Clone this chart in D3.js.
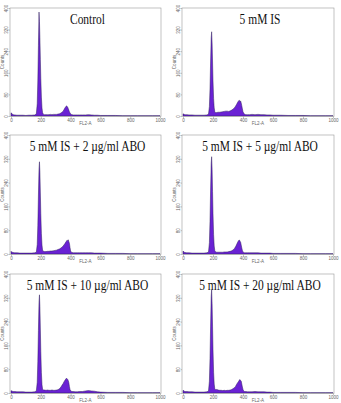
<!DOCTYPE html>
<html>
<head>
<meta charset="utf-8">
<script src="https://cdn.jsdelivr.net/npm/d3@7"></script>
<style>
  body { margin: 0; background: #fff; }
  .axis text { font-family: Arial, "Liberation Sans", sans-serif; font-size: 4.5px; fill: #666; }
  .axis line { stroke: #888; stroke-width: 0.5; }
</style>
</head>
<body>
<div class="chart"></div>
<script>
// channel positions (FL2-A) shared by all panels
const channels = [0,4,8,15,25, 40,60,80,100,120, 140,160,170,176,180, 184,188,191,194,197,
  200,204,208,212,218, 225,235,245,255,265, 275,285,295,305,315, 325,335,342,350,356,
  362,368,372,376,380, 384,388,392,396,400, 405,410,418,430,445, 460,480,500,520,540,
  560,580,600,650,700, 750,800,850,900,950, 1000];

const titles = ["Control", "5 mM IS", "5 mM IS + 2 \u00b5g/ml ABO", "5 mM IS + 5 \u00b5g/ml ABO",
  "5 mM IS + 10 \u00b5g/ml ABO", "5 mM IS + 20 \u00b5g/ml ABO"];

const control = [12,10,7,5,4, 3,3,3,2,3, 3,4,8,45,130, 260,385,350,290,210,
  140,70,30,12,6, 5,5,5,5,6, 5,6,6,6,7, 8,11,14,18,24,
  30,35,37,36,33, 28,22,16,11,8, 6,5,4,4,4, 4,4,4,5,4,
  3,3,2,2,2, 1,1,1,1,1, 1];
const is5 = [8,7,6,5,5, 4,4,3,3,3, 3,4,7,35,100, 200,290,312,270,200,
  130,65,30,16,12, 13,14,14,15,16, 17,18,18,17,19, 22,26,30,36,42,
  48,54,57,58,52, 56,48,38,26,16, 10,7,5,5,5, 6,5,6,5,5,
  4,4,3,3,2, 2,2,1,1,1, 1];
const abo2 = [9,7,6,5,4, 4,3,3,3,3, 3,4,6,32,95, 195,285,310,275,205,
  135,68,30,13,9, 8,8,9,9,10, 10,11,12,13,15, 17,20,23,27,31,
  35,40,43,46,44, 48,42,36,22,10, 6,5,4,4,4, 4,4,4,4,4,
  3,3,3,2,2, 2,1,1,1,1, 1];
const abo5 = [10,8,6,5,4, 4,3,3,3,3, 3,4,7,38,110, 215,305,327,285,210,
  135,65,27,11,7, 6,6,6,6,6, 7,7,7,8,9, 11,14,18,24,30,
  37,43,46,47,43, 40,30,20,12,7, 5,4,4,4,4, 4,4,4,3,3,
  3,3,2,2,2, 2,1,1,1,1, 1];
const abo10 = [8,7,6,5,5, 4,4,4,3,3, 3,4,7,36,105, 210,305,330,290,215,
  140,68,28,13,10, 10,9,10,9,9, 10,9,9,10,11, 14,20,26,32,38,
  43,47,50,48,46, 42,35,22,12,8, 6,5,5,4,4, 5,5,7,8,7,
  6,4,3,2,2, 2,1,1,1,1, 1];
const abo20 = [9,8,6,5,5, 4,4,3,3,3, 3,4,7,40,115, 225,325,347,300,225,
  145,70,30,14,11, 12,10,9,9,8, 9,8,9,9,10, 12,15,18,22,28,
  33,37,40,44,45, 42,40,30,20,12, 7,5,5,4,4, 4,5,4,4,4,
  3,3,2,2,2, 2,1,1,1,1, 1];

const series = [control, is5, abo2, abo5, abo10, abo20];
const xTicks = [0, 200, 400, 600, 800, 1000];
const yTicks = [0, 80, 160, 240, 320, 400];

const svg = d3.select(".chart").append("svg")
  .attr("width", 341)
  .attr("height", 403);

// panel layout
const cols = [{x0: 11, x1: 160}, {x0: 183, x1: 333}];
const rows = [{top: 8, bot: 116}, {top: 135, bot: 254}, {top: 274, bot: 393}];

series.forEach((counts, i) => {
  const c = cols[i % 2], r = rows[Math.floor(i / 2)];
  const x = d3.scaleLinear().domain([0, 1000]).range([c.x0, c.x1]);
  const y = d3.scaleLinear().domain([0, 400]).range([r.bot, r.top]);
  const g = svg.append("g");

  const pts = channels.map((ch, k) => ({ch: ch, n: counts[k]}));

  const area = d3.area()
    .x(d => x(d.ch))
    .y0(y(0))
    .y1(d => y(d.n));

  g.append("path")
    .datum(pts)
    .attr("fill", "#6a22d4")
    .attr("stroke", "#2e1f5c")
    .attr("stroke-width", 0.5)
    .attr("stroke-linejoin", "round")
    .attr("d", area);

  // frame
  g.append("rect")
    .attr("x", c.x0 - 1)
    .attr("y", r.top)
    .attr("width", c.x1 - c.x0 + 2)
    .attr("height", r.bot - r.top + 0.5)
    .attr("fill", "none")
    .attr("stroke", "#999")
    .attr("stroke-width", 0.6);

  const xAxis = d3.axisBottom(x).tickValues(xTicks).tickSize(1.5).tickPadding(1).tickFormat(d3.format("d"));
  g.append("g")
    .attr("class", "axis")
    .attr("transform", `translate(0,${r.bot + 0.5})`)
    .call(xAxis)
    .call(s => s.select(".domain").remove());

  const yAxis = d3.axisLeft(y).tickValues(yTicks).tickSize(1.5).tickFormat(d3.format("d"));
  g.append("g")
    .attr("class", "axis")
    .attr("transform", `translate(${c.x0 - 1},0)`)
    .call(yAxis)
    .call(s => s.select(".domain").remove())
    .call(s => s.selectAll("text")
      .attr("transform", "rotate(-90)")
      .attr("text-anchor", "middle")
      .attr("x", 0)
      .attr("y", -2.2)
      .attr("dy", 0));

  g.append("text")
    .attr("transform", `translate(${c.x0 - 7},${(r.top + r.bot) / 2}) rotate(-90)`)
    .attr("text-anchor", "middle")
    .style("font-family", "Arial, 'Liberation Sans', sans-serif")
    .style("font-size", "4.5px")
    .style("fill", "#666")
    .text("Counts");

  g.append("text")
    .attr("x", (c.x0 + c.x1) / 2)
    .attr("y", r.bot + 9)
    .attr("text-anchor", "middle")
    .style("font-family", "Arial, 'Liberation Sans', sans-serif")
    .style("font-size", "4.5px")
    .style("fill", "#666")
    .text("FL2-A");

  // title, squeezed horizontally like the source figure
  const tx = (c.x0 + c.x1) / 2 + 2, ty = r.top + 16;
  g.append("text")
    .attr("transform", `translate(${tx},${ty}) scale(0.82,1)`)
    .attr("text-anchor", "middle")
    .style("font-family", "'Liberation Serif', 'Times New Roman', serif")
    .style("font-size", "14px")
    .style("fill", "#111")
    .text(titles[i]);
});
</script>
</body>
</html>
